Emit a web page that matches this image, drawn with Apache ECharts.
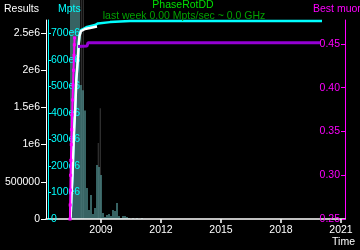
<!DOCTYPE html>
<html><head><meta charset="utf-8">
<script src="https://cdn.jsdelivr.net/npm/echarts@6/dist/echarts.min.js"></script>
<style>html,body{margin:0;padding:0;background:#000}#c{width:360px;height:250px}</style>
</head><body><div id="c"></div>
<script>
// Tick labels
const xTicks = [2009, 2012, 2015, 2018, 2021];
const resultsTicks = [0, 500000, 1000000, 1500000, 2000000, 2500000];
const mptsTicks = [0, 100e6, 200e6, 300e6, 400e6, 500e6, 600e6, 700e6];
const muonTicks = [0.25, 0.30, 0.35, 0.40, 0.45];

// Results histogram (teal)
const histYears = [2007.5, 2007.6, 2007.7, 2007.8, 2007.9, 2008.0, 2008.1, 2008.2, 2008.3, 2008.4, 2008.5, 2008.6, 2008.7, 2008.8, 2008.9, 2009.0, 2009.1, 2009.2, 2009.3, 2009.4, 2009.5, 2009.6, 2009.7, 2009.8, 2009.9, 2010.0, 2010.1, 2010.2, 2010.3, 2010.4, 2010.6, 2010.8, 2011.05];
const histResults = [3300000, 3300000, 3300000, 3300000, 3300000, 1800000, 1730000, 1460000, 417000, 121000, 323000, 67000, 148000, 726000, 699000, 591000, 81000, 27000, 54000, 67000, 40000, 121000, 108000, 215000, 40000, 13000, 40000, 40000, 27000, 13000, 13000, 13000, 13000];
// Results spikes (grey)
const spikeYears = [2008.025, 2008.125, 2008.875, 2008.975];
const spikeResults = [3300000, 3300000, 1020000, 1490000];

// Cumulative results (white)
const cumYears = [2007.475, 2007.525, 2007.575, 2007.6, 2007.65, 2007.715, 2007.765, 2007.84, 2007.885, 2007.925, 2008.0, 2008.2, 2008.45, 2008.8];
const cumResults = [0, 323000, 591000, 793000, 1156000, 1505000, 1868000, 2137000, 2339000, 2460000, 2527000, 2554000, 2567000, 2588000];

// Mpts (cyan)
const mptsYears = [2007.475, 2007.525, 2007.575, 2007.6, 2007.65, 2007.715, 2007.765, 2007.84, 2007.885, 2007.925, 2008.0, 2008.15, 2008.3, 2008.7, 2008.85, 2008.95, 2009.45, 2010.45, 2020.05];
const mptsValues = [0, 90e6, 166e6, 222e6, 324e6, 422e6, 524e6, 599e6, 660e6, 693e6, 712e6, 718e6, 724e6, 731e6, 737e6, 740e6, 742e6, 746e6, 746e6];

// Muon per result (magenta)
const muonYears = [2007.45, 2007.46, 2007.47, 2007.48, 2007.495, 2007.515, 2007.535, 2007.555, 2007.58, 2007.6, 2007.625, 2007.65, 2007.665, 2007.68];
const muonValues = [0.250, 0.266, 0.283, 0.300, 0.317, 0.335, 0.352, 0.369, 0.386, 0.403, 0.420, 0.437, 0.449, 0.457];

// Best muon (purple)
const bestYears = [2007.85, 2008.3, 2008.35, 2019.95];
const bestMuon = [0.4471, 0.4477, 0.4515, 0.4515];

const zip = (a, b) => a.map((v, i) => [v, b[i]]);
const FONT = '"Liberation Sans", Arial, sans-serif';
const fs = 10.5;

const chart = echarts.init(document.getElementById('c'), null, {renderer: 'canvas'});
chart.setOption({
  backgroundColor: '#000',
  animation: false,
  grid: {left: 46, right: 15, top: 20, bottom: 31, containLabel: false},
  xAxis: {
    type: 'value', min: 2006.25, max: 2021.2, z: 2,
    splitLine: {show: false},
    axisLine: {lineStyle: {color: '#fff', width: 1.5}},
    axisTick: {show: true, length: 4, lineStyle: {color: '#fff', width: 1.5}, customValues: xTicks},
    axisLabel: {color: '#fff', fontFamily: FONT, fontSize: fs, margin: 6, customValues: xTicks, formatter: v => String(v)}
  },
  yAxis: [
    {
      type: 'value', position: 'left', min: 0, max: 2675000, z: 2,
      splitLine: {show: false},
      axisLine: {show: true, lineStyle: {color: '#fff', width: 1}},
      axisTick: {show: true, length: 5, lineStyle: {color: '#fff'}, customValues: resultsTicks},
      axisLabel: {color: '#fff', fontFamily: FONT, fontSize: fs, margin: 6, customValues: resultsTicks,
        formatter: v => v === 0 ? '0' : (v === 500000 ? '500000' : (v / 1e6) + 'e6')}
    },
    {
      type: 'value', position: 'left', offset: -2, min: 0, max: 750e6, z: 2,
      splitLine: {show: false},
      axisLine: {show: true, lineStyle: {color: '#00ffff', width: 1}},
      axisTick: {show: true, inside: true, length: 3, lineStyle: {color: '#00ffff'}, customValues: mptsTicks},
      axisLabel: {inside: true, color: '#00ffff', fontFamily: FONT, fontSize: fs, margin: 3, customValues: mptsTicks,
        formatter: v => v === 0 ? '0' : (v / 1e6) + 'e6'}
    },
    {
      type: 'value', position: 'right', min: 0.25, max: 0.4774, z: 2,
      splitLine: {show: false},
      axisLine: {show: true, lineStyle: {color: '#ff00ff', width: 1}},
      axisTick: {show: true, inside: true, length: 4, lineStyle: {color: '#ff00ff'}, customValues: muonTicks},
      axisLabel: {inside: true, color: '#ff00ff', fontFamily: FONT, fontSize: fs, margin: 5, customValues: muonTicks,
        formatter: v => v.toFixed(2)}
    }
  ],
  series: [
    {type: 'bar', name: 'spikes', xAxisIndex: 0, yAxisIndex: 0, clip: false, barWidth: 1, barGap: '-100%',
      itemStyle: {color: '#3c3c3c'}, data: zip(spikeYears, spikeResults), z: 0},
    {type: 'bar', name: 'results', xAxisIndex: 0, yAxisIndex: 0, clip: false, barWidth: 1.5, barGap: '-100%',
      itemStyle: {color: '#4a8585'}, data: zip(histYears, histResults), z: 1},
    {type: 'line', name: 'Mpts', yAxisIndex: 1, symbol: 'none', lineStyle: {color: '#00ffff', width: 2.5},
      data: zip(mptsYears, mptsValues), z: 3},
    {type: 'line', name: 'cumResults', yAxisIndex: 0, symbol: 'none', lineStyle: {color: '#ffffff', width: 2.5},
      data: zip(cumYears, cumResults), z: 4},
    {type: 'line', name: 'Best muon', yAxisIndex: 2, symbol: 'none', lineStyle: {color: '#9400d3', width: 3},
      data: zip(bestYears, bestMuon), z: 4},
    {type: 'line', name: 'muon', yAxisIndex: 2, symbol: 'rect', symbolSize: 3, showAllSymbol: true,
      lineStyle: {color: '#ff00ff', width: 2}, itemStyle: {color: '#ff00ff'},
      data: zip(muonYears, muonValues), z: 5}
  ],
  graphic: [
    {type: 'text', z: 100, x: 4, y: 9, style: {text: 'Results', fill: '#fff', font: fs + 'px ' + FONT, align: 'left', verticalAlign: 'middle'}},
    {type: 'text', z: 100, x: 58, y: 9, style: {text: 'Mpts', fill: '#00ffff', font: fs + 'px ' + FONT, align: 'left', verticalAlign: 'middle'}},
    {type: 'text', z: 100, x: 183, y: 5, style: {text: 'PhaseRotDD', fill: '#00e000', font: fs + 'px ' + FONT, align: 'center', verticalAlign: 'middle'}},
    {type: 'text', z: 100, x: 184, y: 16.5, style: {text: 'last week 0.00 Mpts/sec ~ 0.0 GHz', fill: '#00a000', font: fs + 'px ' + FONT, align: 'center', verticalAlign: 'middle'}},
    {type: 'text', z: 100, x: 313, y: 9.5, style: {text: 'Best muon', fill: '#ff00ff', font: fs + 'px ' + FONT, align: 'left', verticalAlign: 'middle'}},
    {type: 'text', z: 100, x: 355, y: 242.5, style: {text: 'Time', fill: '#fff', font: fs + 'px ' + FONT, align: 'right', verticalAlign: 'middle'}}
  ]
});
</script>
</body></html>
